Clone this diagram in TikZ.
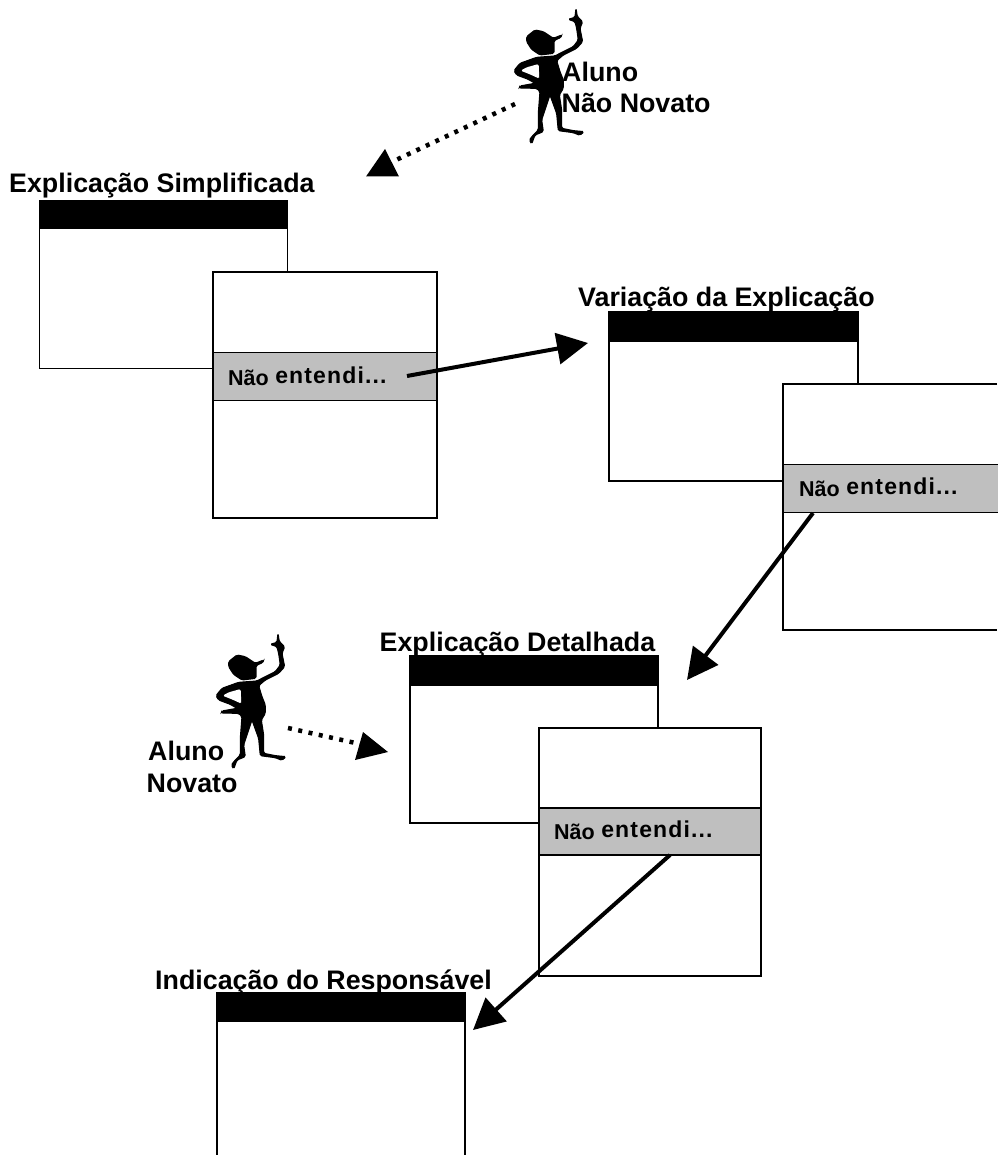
\documentclass[tikz,border=0pt]{standalone}
\usepackage{fontspec}
\setmainfont{Liberation Sans}
\usetikzlibrary{arrows.meta}
\newcommand{\notsaid}{{\raisebox{-2pt}{\fontsize{21.5}{23}\selectfont Não}\hspace{6.5pt}\fontsize{23}{25}\selectfont\addfontfeature{LetterSpace=5}entendi...}}
\tikzset{
  every picture/.style={x=1pt,y=-1pt},
  win/.style={draw=black,line width=1.5pt,fill=white,inner sep=0pt,outer sep=0pt},
  bar/.style={fill=black,draw=black,line width=1.5pt,inner sep=0pt,outer sep=0pt},
  band/.style={fill=black!25,draw=black,line width=1.5pt,inner sep=0pt,outer sep=0pt},
  ttl/.style={font=\bfseries\fontsize{26.8}{32}\selectfont,anchor=base west,inner sep=0pt,align=left},
  lbl/.style={font=\bfseries,anchor=base west,inner sep=0pt},
  link/.style={line width=4pt,-{Triangle[length=31pt,width=31pt]}},
  dots/.style={line width=4.5pt,dash pattern=on 4pt off 6.5pt},
  person/.pic={
    \filldraw[line width=1.1pt,rounded corners=1.5pt] (648,25) -- (652,50) -- (668,65) -- (660,85) -- (668,125) -- (650,145) -- (610,165) -- (590,182) -- (600,215) -- (610,240) -- (610,265) -- (598,285) -- (605,330) -- (605,385) -- (640,392) -- (672,395) -- (660,406) -- (640,398) -- (595,392) -- (590,340) -- (570,285) -- (545,360) -- (550,395) -- (525,405) -- (515,432) -- (508,420) -- (520,405) -- (535,390) -- (535,340) -- (540,275) -- (530,265) -- (478,264) -- (480,258) -- (525,250) -- (505,238) -- (470,225) -- (462,212) -- (480,190) -- (530,172) -- (585,168) -- (600,160) -- (640,140) -- (655,120) -- (650,85) -- (645,65) -- (625,58) -- (645,52) -- cycle;
    \fill[white,rounded corners=1.5pt] (482,212) -- (500,202) -- (536,192) -- (538,236) -- (512,224) -- cycle;
    \filldraw[line width=1.1pt,rounded corners=1.5pt] (500,110) -- (525,90) -- (550,95) -- (580,115) -- (605,105) -- (603,112) -- (582,122) -- (582,160) -- (540,165) -- (515,148) -- (500,125) -- cycle;
  }
}
\begin{document}
\begin{tikzpicture}
\useasboundingbox (0,0) rectangle (997,1155);
% window 1
\node[win,minimum width=248pt,minimum height=168pt,anchor=north west] (w1) at (39.5,200.5) {};
\node[bar,minimum width=248pt,minimum height=28pt,anchor=north west] (b1) at (39.5,200.5) {};
\node[win,minimum width=224pt,minimum height=246pt,anchor=north west] (f1) at (213,272) {};
\node[band,minimum width=224pt,minimum height=48pt,anchor=north west] (g1) at (213,352.5) {};
\node[ttl] (t1) at (9,193) {Explicação Simplificada};
\node[lbl] (n1) at (228,383) {\notsaid};
% window 2
\node[win,minimum width=249pt,minimum height=169pt,anchor=north west] (w2) at (609,312) {};
\node[bar,minimum width=249pt,minimum height=29pt,anchor=north west] (b2) at (609,312) {};
\path[fill=white] (783,384) rectangle (997,630);
\draw[line width=1.5pt] (997,384) -- (783,384) -- (783,630) -- (997,630);
\node[band,minimum width=220pt,minimum height=48pt,anchor=north west] (g2) at (783,464.5) {};
\node[ttl] (t2) at (578,306) {Variação da Explicação};
\node[lbl] (n2) at (799,494) {\notsaid};
% window 3
\node[win,minimum width=248pt,minimum height=167pt,anchor=north west] (w3) at (410,656) {};
\node[bar,minimum width=248pt,minimum height=29pt,anchor=north west] (b3) at (410,656) {};
\node[win,minimum width=222pt,minimum height=248pt,anchor=north west] (f3) at (539,728) {};
\node[band,minimum width=222pt,minimum height=47pt,anchor=north west] (g3) at (539,808) {};
\node[ttl] (t3) at (379.5,651) {Explicação Detalhada};
\node[lbl] (n3) at (554,837) {\notsaid};
% window 4
\draw[line width=1.5pt,fill=white] (217,1160) -- (217,993) -- (465,993) -- (465,1160);
\node[bar,minimum width=248pt,minimum height=28pt,anchor=north west] (b4) at (217,993) {};
\node[ttl] (t4) at (155,989) {Indicação do Responsável};
% people
\begin{scope}[shift={(360,0)},x=0.3333pt,y=-0.3333pt]
\pic (p1) at (0,0) {person};
\end{scope}
\begin{scope}[shift={(62,625)},x=0.3333pt,y=-0.3333pt]
\pic (p2) at (0,0) {person};
\end{scope}
\node[ttl] (a1) at (562,82) {Aluno};
\node[ttl] (a1b) at (561.5,113) {Não Novato};
\node[ttl] (a2) at (148,760) {Aluno};
\node[ttl] (a2b) at (146.5,792) {Novato};
% connectors
\coordinate (s1) at (407,376); \coordinate (e1) at (588,343);
\coordinate (s2) at (813,513); \coordinate (e2) at (687,680);
\coordinate (s3) at (670,855); \coordinate (e3) at (473,1030);
\coordinate (s4) at (515,104); \coordinate (e4) at (396,160);
\coordinate (s5) at (288,728); \coordinate (e5) at (360,744);
\coordinate (e6) at (388,752);
\draw[link] (s1) -- (e1);
\draw[link] (s2) -- (e2);
\draw[link] (s3) -- (e3);
\draw[dots] (s4) -- (e4);
\fill (366,176.5) -- (385,149) -- (399,176.5) -- cycle;
\draw[dots] (s5) -- (e5);
\fill (363,732) -- (e6) -- (355,760) -- cycle;
\end{tikzpicture}
\end{document}
